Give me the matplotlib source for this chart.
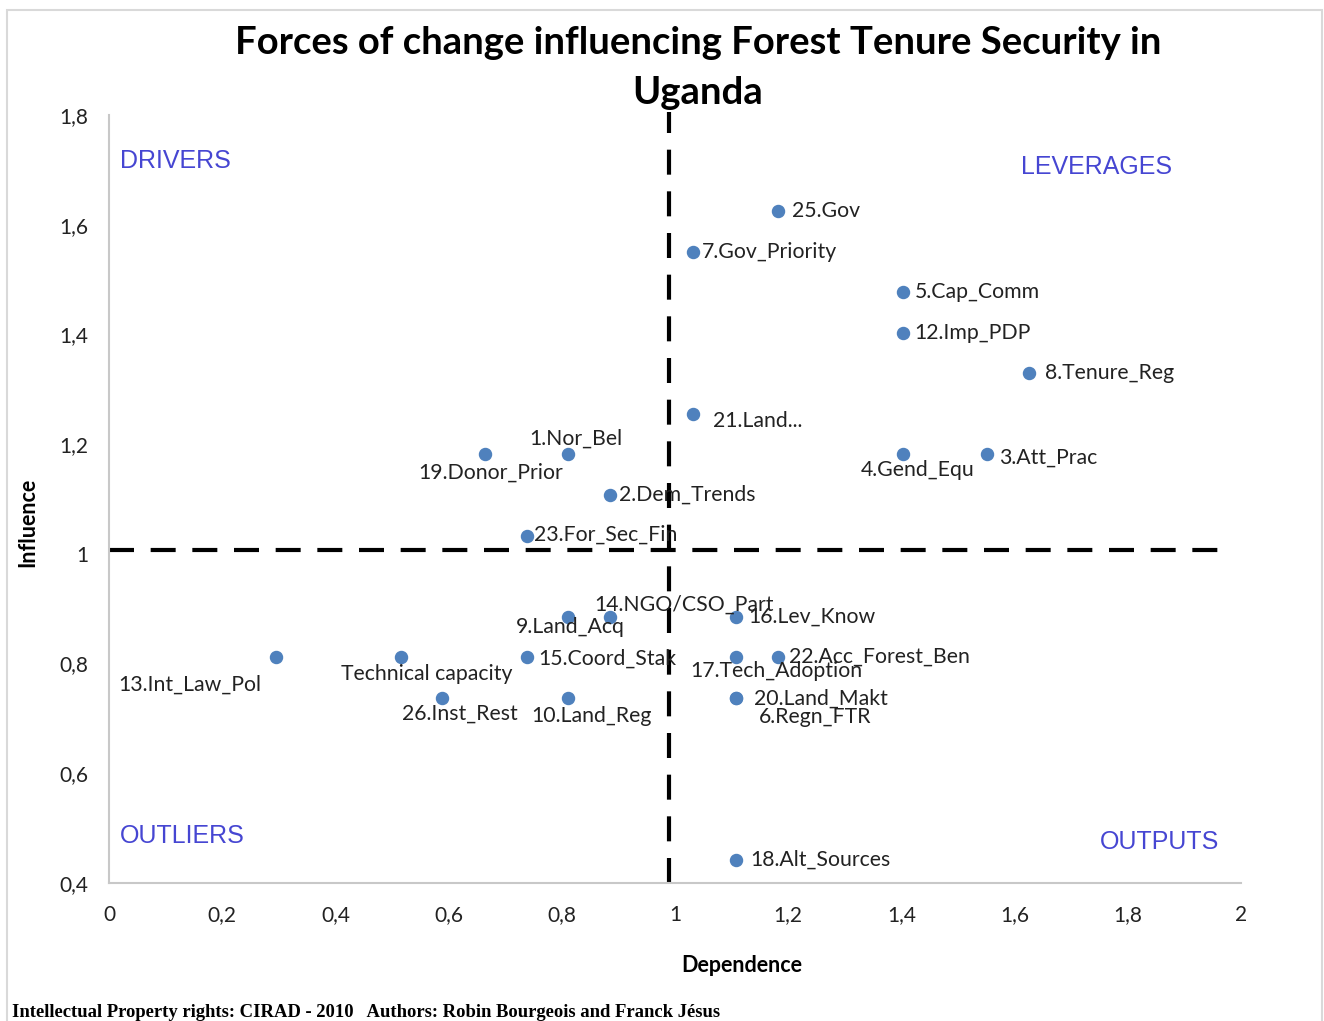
import matplotlib
matplotlib.use('Agg')
import matplotlib.pyplot as plt
from matplotlib.patches import Rectangle
from matplotlib.ticker import FuncFormatter

# forces of change: (dependence, influence)
forces = ['25.Gov', '7.Gov_Priority', '5.Cap_Comm', '12.Imp_PDP', '8.Tenure_Reg',
          '21.Land...', '4.Gend_Equ', '3.Att_Prac', '1.Nor_Bel', '19.Donor_Prior',
          '2.Dem_Trends', '23.For_Sec_Fin', '9.Land_Acq', '14.NGO/CSO_Part',
          '16.Lev_Know', '13.Int_Law_Pol', 'Technical capacity', '15.Coord_Stak',
          '17.Tech_Adoption', '22.Acc_Forest_Ben', '26.Inst_Rest', '10.Land_Reg',
          '20.Land_Makt', '6.Regn_FTR', '18.Alt_Sources']
dependence = [1.182, 1.032, 1.403, 1.403, 1.625,
              1.032, 1.403, 1.551, 0.811, 0.664,
              0.885, 0.739, 0.811, 0.885,
              1.108, 0.295, 0.516, 0.739,
              1.108, 1.182, 0.588, 0.811,
              1.108, 1.108, 1.108]
influence = [1.625, 1.550, 1.477, 1.403, 1.330,
             1.255, 1.182, 1.182, 1.182, 1.182,
             1.107, 1.033, 0.885, 0.885,
             0.885, 0.812, 0.812, 0.812,
             0.812, 0.812, 0.737, 0.737,
             0.737, 0.737, 0.442]

x_threshold = 0.99
y_threshold = 1.007
x_ticks = [0, 0.2, 0.4, 0.6, 0.8, 1, 1.2, 1.4, 1.6, 1.8, 2]
y_ticks = [0.4, 0.6, 0.8, 1, 1.2, 1.4, 1.6, 1.8]

# label placement in pixels (dx, dy, ha) relative to the point
label_pos = {
    '25.Gov': (14, 0, 'left'),
    '7.Gov_Priority': (9, 0, 'left'),
    '5.Cap_Comm': (12, 0, 'left'),
    '12.Imp_PDP': (11, 0, 'left'),
    '8.Tenure_Reg': (16, 0, 'left'),
    '21.Land...': (20, -7, 'left'),
    '4.Gend_Equ': (15, -16, 'center'),
    '3.Att_Prac': (12, -4, 'left'),
    '1.Nor_Bel': (8, 15, 'center'),
    '19.Donor_Prior': (6, -19, 'center'),
    '2.Dem_Trends': (9, 0, 'left'),
    '23.For_Sec_Fin': (7, 1, 'left'),
    '9.Land_Acq': (2, -10, 'center'),
    '14.NGO/CSO_Part': (74, 12, 'center'),
    '16.Lev_Know': (12, 0, 'left'),
    '13.Int_Law_Pol': (-15, -28, 'right'),
    'Technical capacity': (26, -17, 'center'),
    '15.Coord_Stak': (11, -2, 'left'),
    '17.Tech_Adoption': (40, -14, 'center'),
    '22.Acc_Forest_Ben': (11, 0, 'left'),
    '26.Inst_Rest': (18, -16, 'center'),
    '10.Land_Reg': (23, -18, 'center'),
    '20.Land_Makt': (18, -1, 'left'),
    '6.Regn_FTR': (23, -19, 'left'),
    '18.Alt_Sources': (14, 0, 'left'),
}

label_font = 'Lato'
quad_color = '#4646d2'
grey = '#c8c8c8'

fig = plt.figure(figsize=(13.24, 10.21), dpi=100)
fig.patches.append(Rectangle((7 / 1324, -0.05), 1315 / 1324, 1.05 - 10 / 1021,
                             transform=fig.transFigure, fill=False,
                             edgecolor='#d9d9d9', linewidth=1.5))

ax = fig.add_axes([109 / 1324, 1 - 883 / 1021, 1132 / 1324, 768 / 1021])

ax.scatter(dependence, influence, s=75, color='#4f81bd', zorder=3)

for name, x, y in zip(forces, dependence, influence):
    dx, dy, ha = label_pos[name]
    ax.annotate(name, (x, y), xytext=(dx, dy), textcoords='offset pixels',
                ha=ha, va='center', fontsize=15.3, family=label_font,
                color='#222222', zorder=4)

# threshold lines
ax.plot([x_threshold, x_threshold], [0.4, 1.805], color='black', lw=3,
        dashes=(6, 4), clip_on=False, zorder=2)
ax.plot([0, 1.977], [y_threshold, y_threshold], color='black', lw=3,
        dashes=(6, 4), clip_on=False, zorder=2)

ax.set_xlim(0, 2)
ax.set_ylim(0.4, 1.8)
ax.set_xticks(x_ticks)
ax.set_yticks(y_ticks)
fmt = FuncFormatter(lambda v, p: f'{v:g}'.replace('.', ','))
ax.xaxis.set_major_formatter(fmt)
ax.yaxis.set_major_formatter(fmt)
ax.tick_params(length=0, labelsize=15, colors='#222222')
ax.tick_params(axis='x', pad=16)
ax.tick_params(axis='y', pad=15)
for lbl in ax.get_xticklabels() + ax.get_yticklabels():
    lbl.set_family(label_font)

for side in ['top', 'right']:
    ax.spines[side].set_visible(False)
for side in ['left', 'bottom']:
    ax.spines[side].set_color(grey)
    ax.spines[side].set_linewidth(1.5)

ax.set_xlabel('Dependence', fontsize=15.5, fontweight='bold', family=label_font)
ax.set_ylabel('Influence', fontsize=15.5, fontweight='bold', family=label_font)
ax.xaxis.set_label_coords((742 - 109) / 1132, -(966 - 883) / 768)
ax.yaxis.set_label_coords(-(109 - 28) / 1132, (883 - 522) / 768)
ax.xaxis.label.set_va('center')
ax.yaxis.label.set_va('center')

# quadrant names
ax.text(0.01, 0.94, 'DRIVERS', transform=ax.transAxes, color=quad_color,
        fontsize=18, family='Liberation Sans', va='center')
ax.text(0.939, 0.932, 'LEVERAGES', transform=ax.transAxes, color=quad_color,
        fontsize=18, family='Liberation Sans', va='center', ha='right')
ax.text(0.01, 0.061, 'OUTLIERS', transform=ax.transAxes, color=quad_color,
        fontsize=18, family='Liberation Sans', va='center')
ax.text(0.981, 0.053, 'OUTPUTS', transform=ax.transAxes, color=quad_color,
        fontsize=18, family='Liberation Sans', va='center', ha='right')

fig.text(698 / 1324, 1 - 68 / 1021,
         'Forces of change influencing Forest Tenure Security in\nUganda',
         ha='center', va='center', fontsize=27.5, fontweight='bold',
         family=label_font, linespacing=1.55)

fig.text(12 / 1324, 1 - 1012 / 1021,
         'Intellectual Property rights: CIRAD - 2010   Authors: Robin Bourgeois and Franck Jésus',
         ha='left', va='center', fontsize=13.4, fontweight='bold',
         family='Liberation Serif')

fig.savefig('out.png', dpi=100)
